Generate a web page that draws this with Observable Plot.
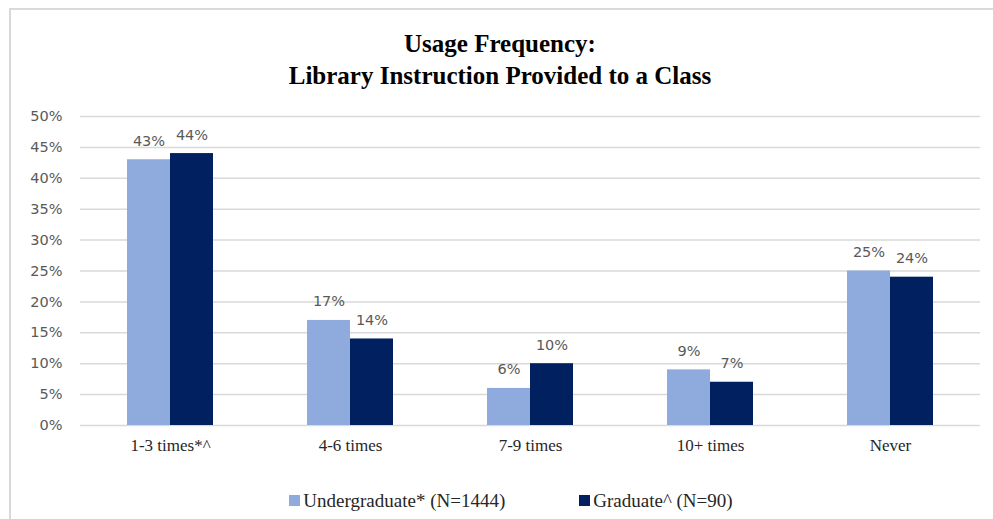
<!DOCTYPE html>
<html>
<head>
<meta charset="utf-8">
<script src="https://cdn.jsdelivr.net/npm/d3@7"></script>
<script src="https://cdn.jsdelivr.net/npm/@observablehq/plot@0.6"></script>
<style>
  html, body { margin: 0; padding: 0; background: #fff; }
  #wrap { position: relative; width: 993px; height: 519px; overflow: hidden; }
  #frame { position: absolute; left: 9px; top: 8px; right: -5px; bottom: -5px;
           border-left: 2px solid #d9d9d9; border-top: 2px solid #d9d9d9; }
  #title { position: absolute; left: 0; width: 1000px; top: 28px; text-align: center;
           font-family: "Liberation Serif", "Times New Roman", serif; font-weight: bold;
           font-size: 25px; line-height: 32px; color: #000; }
  #chart { position: absolute; left: 0; top: 96px; }
  #legend { position: absolute; left: 0; width: 1022px; top: 489px; text-align: center;
            font-family: "Liberation Serif", "Times New Roman", serif; font-size: 19px; color: #262626; }
  .item { display: inline-flex; align-items: center; margin: 0 37px; }
  .sw { width: 11px; height: 11px; display: inline-block; margin-right: 3px; }
</style>
</head>
<body>
<div id="wrap">
  <div id="frame"></div>
  <div id="title">Usage Frequency:<br>Library Instruction Provided to a Class</div>
  <div id="chart"></div>
  <div id="legend"></div>
</div>
<script>
const categories = ["1-3 times*^", "4-6 times", "7-9 times", "10+ times", "Never"];
const seriesNames = ["Undergraduate* (N=1444)", "Graduate^ (N=90)"];
const undergraduate = [43, 17, 6, 9, 25];
const graduate = [44, 14, 10, 7, 24];
const colors = ["#8faadc", "#002060"];
const yTicks = [0, 5, 10, 15, 20, 25, 30, 35, 40, 45, 50];

const data = [];
categories.forEach((c, i) => {
  data.push({category: c, series: seriesNames[0], value: undergraduate[i]});
  data.push({category: c, series: seriesNames[1], value: graduate[i]});
});

const sans = "DejaVu Sans, Verdana, sans-serif";

const chart = Plot.plot({
  width: 993,
  height: 370,
  marginLeft: 78,
  marginRight: 11,
  marginTop: 20,
  marginBottom: 41,
  style: {background: "transparent", overflow: "visible"},
  fx: {domain: categories, paddingInner: 0, paddingOuter: 0, label: null},
  x: {domain: seriesNames, axis: null, paddingInner: 0, paddingOuter: 1.078},
  y: {domain: [0, 50], axis: null},
  color: {domain: seriesNames, range: colors},
  marks: [
    Plot.gridY(yTicks, {stroke: "#d9d9d9", strokeOpacity: 1, strokeWidth: 1.5}),
    Plot.axisY(yTicks, {tickSize: 0, tickPadding: 18, tickFormat: d => d + "%", label: null,
      fontSize: 14.5, fontFamily: sans, fill: "#595959"}),
    Plot.axisFx({anchor: "bottom", tickSize: 0, tickPadding: 13, label: null,
      fontSize: 17, fontFamily: "Liberation Serif, Times New Roman, serif", fill: "#262626"}),
    Plot.barY(data, {fx: "category", x: "series", y: "value", fill: "series"}),
    Plot.text(data, {fx: "category", x: "series", y: "value", text: d => d.value + "%",
      lineAnchor: "bottom", dy: -14, fontSize: 14.5, fontFamily: sans, fill: "#595959"})
  ]
});
document.getElementById("chart").appendChild(chart);

const legend = document.getElementById("legend");
seriesNames.forEach((s, i) => {
  const item = document.createElement("span");
  item.className = "item";
  const sw = document.createElement("span");
  sw.className = "sw";
  sw.style.background = colors[i];
  item.appendChild(sw);
  item.appendChild(document.createTextNode(s));
  legend.appendChild(item);
});
</script>
</body>
</html>
